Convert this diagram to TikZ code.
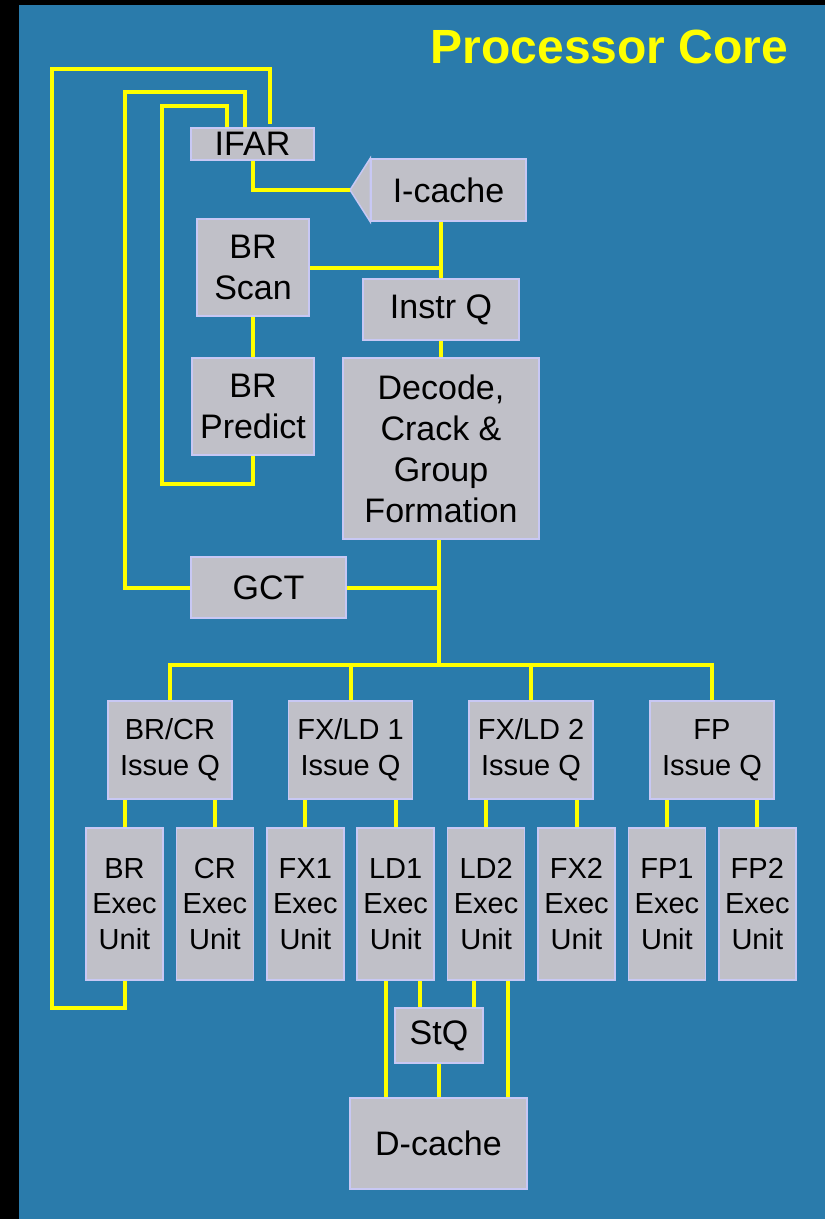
\documentclass[tikz,border=0pt]{standalone}
\usepackage{fontspec}
\setmainfont{Liberation Sans}
\definecolor{bg}{HTML}{2A7BAB}
\definecolor{boxfill}{HTML}{C0C0C8}
\definecolor{boxline}{HTML}{C8C8F4}
\definecolor{wirey}{HTML}{FFFF00}
\begin{document}
\begin{tikzpicture}[x=1pt,y=-1pt,
  blk/.style={draw=boxline, line width=1.5pt, fill=boxfill, inner sep=0pt, align=center,
              font=\fontsize{34}{41}\selectfont, text=black},
  qbox/.style={blk, minimum width=124pt, minimum height=98pt, font=\fontsize{29}{36}\selectfont},
  ebox/.style={blk, minimum width=77pt, minimum height=152pt, font=\fontsize{29}{35.5}\selectfont},
  wire/.style={draw=wirey, line width=4pt}
]
% background
\fill[black] (0,0) rectangle (825,1219);
\fill[bg] (19,5) rectangle (825,1219);
\node[anchor=base, text=wirey, font=\fontsize{48}{56}\selectfont\bfseries] (title) at (609.5,63) {Processor Core};

% front-end nodes
\node[blk, minimum width=123pt, minimum height=32pt] (ifar) at (252.5,144) {IFAR};
\node[blk, minimum width=155pt, minimum height=62pt] (icache) at (448.5,190) {I-cache};
\coordinate (tip) at (350,190);
\filldraw[draw=boxline, line width=1.5pt, fill=boxfill, line join=miter] (icache.north west) -- (tip) -- (icache.south west) -- cycle;
\node[blk, minimum width=112pt, minimum height=97pt] (brscan) at (253,267.5) {BR\\Scan};
\node[blk, minimum width=156pt, minimum height=61pt] (instrq) at (441,309.5) {Instr Q};
\node[blk, minimum width=122pt, minimum height=97pt] (brpred) at (253,406.5) {BR\\Predict};
\node[blk, minimum width=196pt, minimum height=181pt] (decode) at (441,448.5) {Decode,\\Crack \&\\Group\\Formation};
\node[blk, minimum width=155pt, minimum height=61pt] (gct) at (268.5,587.5) {GCT};

% issue queues
\node[qbox] (q1) at (170,750) {BR/CR\\Issue Q};
\node[qbox] (q2) at (350.5,750) {FX/LD 1\\Issue Q};
\node[qbox] (q3) at (531,750) {FX/LD 2\\Issue Q};
\node[qbox] (q4) at (712,750) {FP\\Issue Q};

% execution units
\node[ebox] (e1) at (124.5,904) {BR\\Exec\\Unit};
\node[ebox] (e2) at (214.9,904) {CR\\Exec\\Unit};
\node[ebox] (e3) at (305.3,904) {FX1\\Exec\\Unit};
\node[ebox] (e4) at (395.7,904) {LD1\\Exec\\Unit};
\node[ebox] (e5) at (486.1,904) {LD2\\Exec\\Unit};
\node[ebox] (e6) at (576.5,904) {FX2\\Exec\\Unit};
\node[ebox] (e7) at (666.9,904) {FP1\\Exec\\Unit};
\node[ebox] (e8) at (757.3,904) {FP2\\Exec\\Unit};

\node[blk, minimum width=88pt, minimum height=55pt] (stq) at (439,1035.5) {StQ};
\node[blk, minimum width=177pt, minimum height=91pt] (dcache) at (438.5,1143.5) {D-cache};

% feedback loops into IFAR
\coordinate (c1) at (52,1008);
\coordinate (c2) at (270,69);
\coordinate (c3) at (270,124);
\draw[wire] (e1.south) |- (c1) |- (c2) -- (c3);
\coordinate (g1) at (125,92);
\coordinate (g2) at (245,92);
\draw[wire] (gct.west) -| (g1) -- (g2) -- (g2 |- ifar.north);
\coordinate (p1) at (162,484);
\coordinate (p2) at (227,106);
\draw[wire] (brpred.south) |- (p1) |- (p2) -- (p2 |- ifar.north);

% front-end links
\draw[wire] (ifar.south) |- (tip);
\draw[wire] (instrq.north |- icache.south) -- (instrq.north);
\draw[wire] (brscan.east) -- (instrq.north |- brscan.east);
\draw[wire] (brscan.south) -- (brpred.north);
\draw[wire] (instrq.south) -- (decode.north);
\coordinate (bus) at (439,665);
\draw[wire] (bus |- decode.south) -- (bus);
\draw[wire] (gct.east) -- (bus |- gct.east);

% dispatch bus
\draw[wire] (q1.north) |- (bus) -| (q4.north);
\draw[wire] (q2.north) -- (q2.north |- bus);
\draw[wire] (q3.north) -- (q3.north |- bus);

% issue to exec
\draw[wire] (e1.north |- q1.south) -- (e1.north);
\draw[wire] (e2.north |- q1.south) -- (e2.north);
\draw[wire] (e3.north |- q2.south) -- (e3.north);
\draw[wire] (e4.north |- q2.south) -- (e4.north);
\draw[wire] (e5.north |- q3.south) -- (e5.north);
\draw[wire] (e6.north |- q3.south) -- (e6.north);
\draw[wire] (e7.north |- q4.south) -- (e7.north);
\draw[wire] (e8.north |- q4.south) -- (e8.north);

% load/store paths
\draw[wire] ([xshift=-9.7pt]e4.south) -- ([xshift=-9.7pt]e4.south |- dcache.north);
\draw[wire] ([xshift=24.3pt]e4.south) -- ([xshift=24.3pt]e4.south |- stq.north);
\draw[wire] ([xshift=-12.1pt]e5.south) -- ([xshift=-12.1pt]e5.south |- stq.north);
\draw[wire] ([xshift=21.9pt]e5.south) -- ([xshift=21.9pt]e5.south |- dcache.north);
\draw[wire] (stq.south) -- (stq.south |- dcache.north);
\end{tikzpicture}
\end{document}
